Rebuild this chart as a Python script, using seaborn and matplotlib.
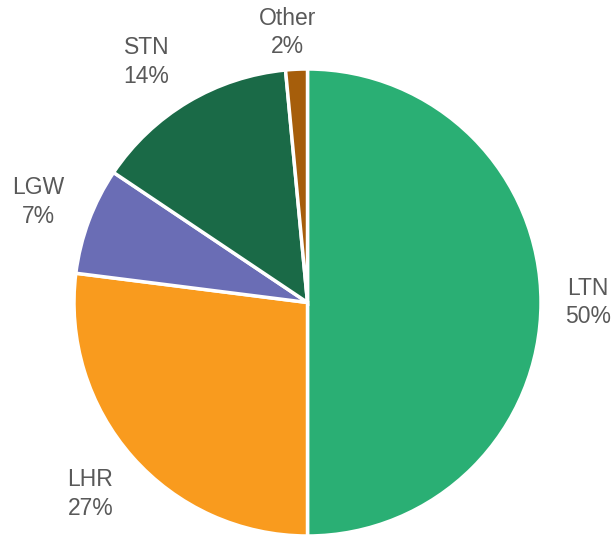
import matplotlib
matplotlib.use("Agg")
import numpy as np
import matplotlib.pyplot as plt
import seaborn as sns

airports = ["LTN", "LHR", "LGW", "STN", "Other"]
shares = [50.0, 27.0, 7.4, 14.1, 1.5]
colors = ["#2AAF74", "#F99B1E", "#6A6DB5", "#1A6A47", "#A65E0B"]
# label placement: distance in pie radii, extra turn in degrees
label_dist = [1.20, 1.24, 1.23, 1.24, 1.16]
label_turn = [0, 0, 0, 3, 1.5]

sns.set_theme(style="white")
plt.rcParams["font.family"] = ["Liberation Sans", "DejaVu Sans"]

fig = plt.figure(figsize=(6.14, 5.36), dpi=100)
R = 233.5
cx, cy = 307.5, 536 - 302.5
ax = fig.add_axes([(cx - R) / 614, (cy - R) / 536, 2 * R / 614, 2 * R / 536])

wedges, _ = ax.pie(
    shares,
    colors=colors,
    startangle=90,
    counterclock=False,
    wedgeprops=dict(edgecolor="white", linewidth=2.5),
)
for w, name, s, d, t in zip(wedges, airports, shares, label_dist, label_turn):
    ang = np.deg2rad((w.theta1 + w.theta2) / 2 + t)
    ax.text(d * np.cos(ang), d * np.sin(ang), f"{name}\n{s:.0f}%",
            ha="center", va="center", color="#595959", fontsize=16.5,
            linespacing=1.3)

ax.set_xlim(-1, 1)
ax.set_ylim(-1, 1)
ax.set_aspect("equal")
ax.axis("off")

fig.savefig("out.png", dpi=100)
